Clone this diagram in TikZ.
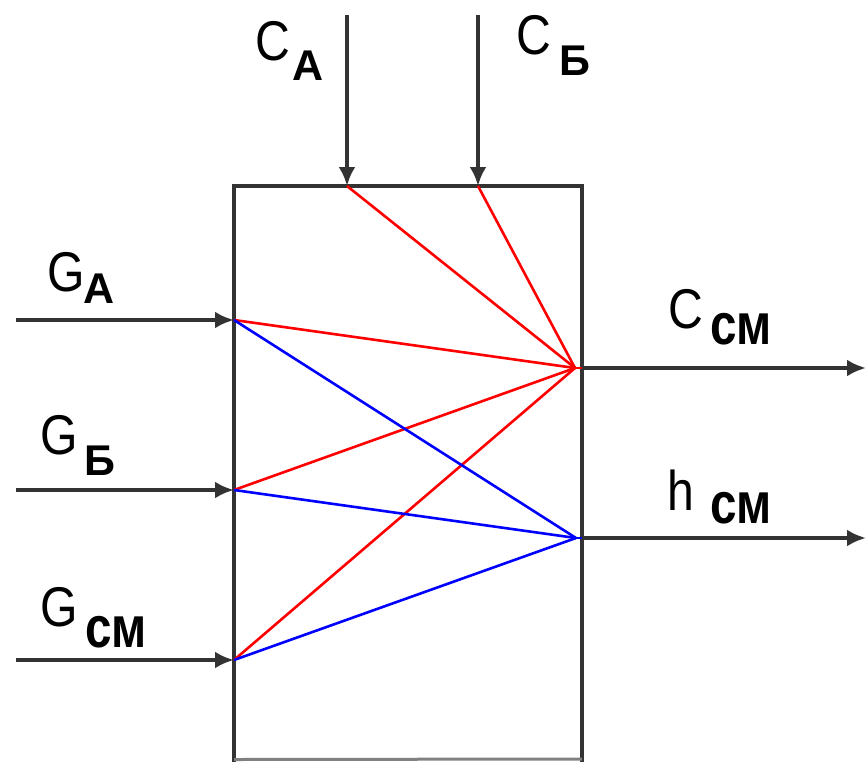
\documentclass[tikz,border=0pt]{standalone}
\usepackage{fontspec}
\setmainfont{Liberation Sans}
\usetikzlibrary{arrows.meta}
\begin{document}
\begin{tikzpicture}[x=1pt,y=-1pt,
  flow/.style={draw=black!80, line width=4pt, -{Latex[length=19pt,width=17pt]}},
  redl/.style={draw=red, line width=2.6pt},
  bluel/.style={draw=blue, line width=2.6pt},
  lab/.style={font=\fontsize{56}{60}\selectfont, inner sep=0pt, anchor=base west, xscale=0.86},
  sub/.style={font=\bfseries\fontsize{43}{48}\selectfont, inner sep=0pt, anchor=base west},
  subcm/.style={font=\bfseries\fontsize{58}{60}\selectfont, inner sep=0pt, anchor=base west, xscale=0.82}]
\useasboundingbox (0,0) rectangle (867,761);
\fill[white] (0,0) rectangle (867,761);
% box
\coordinate (boxNW) at (234,186);
\coordinate (boxSE) at (582,759);
\draw[black!80, line width=4pt] (234,763) -- (boxNW) -- (582,186) -- (582,763);
\draw[black!50, line width=3pt] (234,759.5) -- (boxSE);
% ports
\coordinate (ta) at (347,15);  \coordinate (ca) at (347,186);
\coordinate (tb) at (478,15);  \coordinate (cb) at (478,186);
\coordinate (la) at (16,320);  \coordinate (ga) at (234,320);
\coordinate (lb) at (16,490);  \coordinate (gb) at (234,490);
\coordinate (lc) at (16,660);  \coordinate (gc) at (234,660);
\coordinate (rc) at (575,368); \coordinate (oc) at (582,368); \coordinate (ec) at (866,368);
\coordinate (rh) at (576,538); \coordinate (oh) at (582,538); \coordinate (eh) at (866,538);
% inner lines
\draw[redl] (ca) -- (rc);
\draw[redl] (cb) -- (rc);
\draw[redl] (ga) -- (rc);
\draw[redl] (gb) -- (rc);
\draw[redl] (gc) -- (rc);
\draw[bluel] (ga) -- (rh);
\draw[bluel] (gb) -- (rh);
\draw[bluel] (gc) -- (rh);
\draw[red, line width=2.6pt] (rc) -- (oc);
\draw[blue, line width=2.6pt] (rh) -- (oh);
% arrows
\draw[flow] (ta) -- (ca);
\draw[flow] (tb) -- (cb);
\draw[flow] (la) -- (ga);
\draw[flow] (lb) -- (gb);
\draw[flow] (lc) -- (gc);
\draw[flow] (oc) -- (ec);
\draw[flow] (oh) -- (eh);
% labels
\node[lab] (lCA) at (255,60) {C};
\node[sub] (sCA) at (292,80) {А};
\node[lab] (lCB) at (516,54) {C};
\node[sub] (sCB) at (559,75) {Б};
\node[lab] (lGA) at (47,291) {G};
\node[sub] (sGA) at (83,303) {А};
\node[lab] (lGB) at (40,454) {G};
\node[sub] (sGB) at (84,475) {Б};
\node[lab] (lGC) at (40,626) {G};
\node[subcm] (sGC) at (85,647) {см};
\node[lab] (lCC) at (668,328) {C};
\node[subcm] (sCC) at (710,344) {см};
\node[lab] (lHC) at (667,510) {h};
\node[subcm] (sHC) at (710,523) {см};
\end{tikzpicture}
\end{document}
